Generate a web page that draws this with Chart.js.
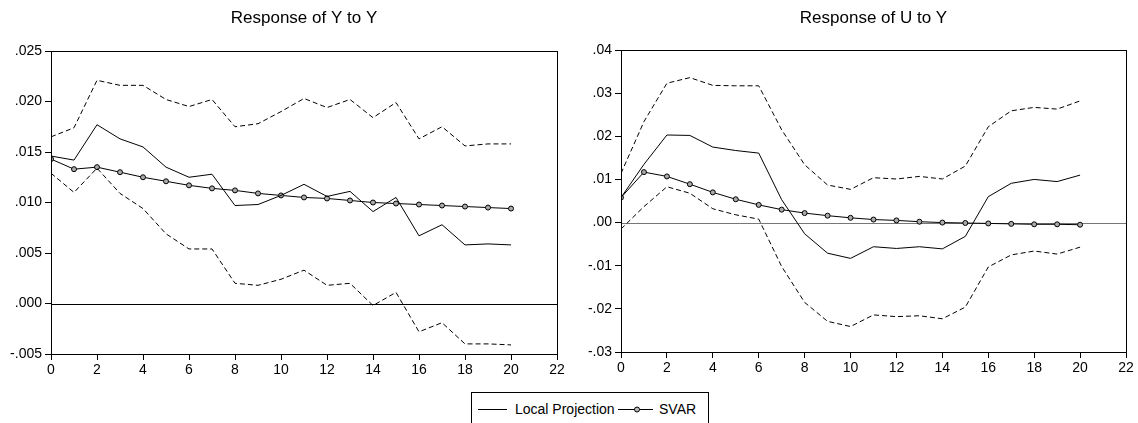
<!DOCTYPE html>
<html>
<head>
<meta charset="utf-8">
<script src="https://cdn.jsdelivr.net/npm/chart.js@4/dist/chart.umd.min.js"></script>
<style>
  html, body { margin: 0; padding: 0; background: #fff; width: 1138px; height: 423px; overflow: hidden; }
  .wrap { position: absolute; top: 0; height: 385px; }
  #legend { position: absolute; left: 471px; top: 392px; width: 238px; height: 40px; border: 1px solid #000; box-sizing: border-box;
            font-family: "Liberation Sans", Arial, sans-serif; font-size: 14px; line-height: 16px; color: #000; }
  #legend span { position: absolute; top: 8px; white-space: nowrap; }
  #legend svg { position: absolute; top: 9px; }
</style>
</head>
<body>
<div class="wrap" style="left:0;width:570px"><canvas id="c1" width="570" height="385"></canvas></div>
<div class="wrap" style="left:570px;width:568px"><canvas id="c2" width="568" height="385"></canvas></div>
<div id="legend">
  <svg style="left:6px" width="30" height="14"><line x1="0" y1="7.5" x2="29" y2="7.5" stroke="#000" stroke-width="1"/></svg>
  <span style="left:43px">Local Projection</span>
  <svg style="left:146px" width="36" height="14"><line x1="0" y1="7.5" x2="35" y2="7.5" stroke="#000" stroke-width="1"/><circle cx="19" cy="7.5" r="2.5" fill="#bbb" stroke="#000" stroke-width="1"/></svg>
  <span style="left:187px">SVAR</span>
</div>
<script>
// ---------- data ----------
const horizons = [0,1,2,3,4,5,6,7,8,9,10,11,12,13,14,15,16,17,18,19,20];

// Response of Y to Y
const lpYY      = [0.0146,0.0142,0.0177,0.0163,0.0155,0.0135,0.0125,0.0128,0.0097,0.0098,0.0107,0.0118,0.0106,0.0111,0.0091,0.0105,0.0067,0.0078,0.0058,0.0059,0.0058];
const lpYYUpper = [0.0165,0.0174,0.0221,0.0216,0.0216,0.0202,0.0195,0.0202,0.0175,0.0178,0.0190,0.0203,0.0194,0.0202,0.0184,0.0199,0.0163,0.0175,0.0156,0.0158,0.0158];
const lpYYLower = [0.0129,0.0110,0.0134,0.0109,0.0094,0.0069,0.0054,0.0054,0.0020,0.0018,0.0024,0.0033,0.0018,0.0020,-0.0002,0.0011,-0.0028,-0.0019,-0.0040,-0.0040,-0.0041];
const svarYY    = [0.0143,0.0133,0.0135,0.0130,0.0125,0.0121,0.0117,0.0114,0.0112,0.0109,0.0107,0.0105,0.0104,0.0102,0.0100,0.0099,0.0098,0.0097,0.0096,0.0095,0.0094];

// Response of U to Y
const lpUY      = [0.0058,0.0135,0.0203,0.0202,0.0175,0.0167,0.0161,0.0053,-0.0026,-0.0071,-0.0083,-0.0056,-0.0060,-0.0056,-0.0061,-0.0032,0.0060,0.0091,0.0100,0.0095,0.0110];
const lpUYUpper = [0.0114,0.0234,0.0323,0.0336,0.0318,0.0317,0.0317,0.0215,0.0134,0.0087,0.0077,0.0104,0.0101,0.0107,0.0101,0.0131,0.0222,0.0259,0.0267,0.0263,0.0282];
const lpUYLower = [-0.0015,0.0037,0.0083,0.0068,0.0032,0.0018,0.0008,-0.0102,-0.0185,-0.0229,-0.0241,-0.0214,-0.0218,-0.0216,-0.0223,-0.0196,-0.0103,-0.0075,-0.0066,-0.0073,-0.0057];
const svarUY    = [0.0058,0.0117,0.0107,0.0089,0.0070,0.0054,0.0041,0.0030,0.0022,0.0016,0.0011,0.0007,0.0005,0.0002,0.0000,-0.0001,-0.0002,-0.0003,-0.0004,-0.0004,-0.0005];

// ticks
const xTickValues = [0,2,4,6,8,10,12,14,16,18,20,22];
const xTickLabels = ['0','2','4','6','8','10','12','14','16','18','20','22'];
const yTickValuesYY = [-0.005,0,0.005,0.010,0.015,0.020,0.025];
const yTickLabelsYY = ['-.005','.000','.005','.010','.015','.020','.025'];
const yTickValuesUY = [-0.03,-0.02,-0.01,0,0.01,0.02,0.03,0.04];
const yTickLabelsUY = ['-.03','-.02','-.01','.00','.01','.02','.03','.04'];

const titles = ['Response of Y to Y', 'Response of U to Y'];

// ---------- helpers ----------
const FONT = '"Liberation Sans", Arial, sans-serif';
function pts(arr){ return arr.map((v,i)=>({x:horizons[i], y:v})); }

const framePlugin = {
  id: 'frame',
  beforeDatasetsDraw(chart, args, opts) {
    const {ctx, chartArea:a, scales:{y}} = chart;
    const y0 = Math.round(y.getPixelForValue(0)) + 0.5;
    ctx.save();
    ctx.strokeStyle = opts.zeroColor; ctx.lineWidth = 1;
    ctx.beginPath(); ctx.moveTo(a.left, y0); ctx.lineTo(a.right, y0); ctx.stroke();
    ctx.restore();
  },
  afterDraw(chart, args, opts) {
    const {ctx, chartArea:a} = chart;
    ctx.save();
    ctx.strokeStyle = '#000'; ctx.lineWidth = 1;
    ctx.strokeRect(Math.round(a.left)+0.5, Math.round(a.top)+0.5, Math.round(a.right-a.left), Math.round(a.bottom-a.top));
    ctx.fillStyle = '#000';
    ctx.font = '17px ' + FONT;
    ctx.textAlign = 'center'; ctx.textBaseline = 'alphabetic';
    ctx.fillText(opts.title, (a.left + a.right)/2, 23);
    ctx.restore();
  }
};

function makeChart(id, lp, up, lo, sv, yVals, yLabs, ymin, ymax, pad, title, zeroColor) {
  const dashed = (d)=>({data: pts(d), borderColor:'#000', borderWidth:1, borderDash:[5,3], pointRadius:0, fill:false, tension:0});
  new Chart(document.getElementById(id), {
    type: 'line',
    data: {
      datasets: [
        dashed(up),
        dashed(lo),
        {data: pts(lp), borderColor:'#000', borderWidth:1, pointRadius:0, fill:false, tension:0},
        {data: pts(sv), borderColor:'#000', borderWidth:1, pointRadius:2.5, pointBorderWidth:1,
         pointBackgroundColor:'#aaa', pointBorderColor:'#000', fill:false, tension:0}
      ]
    },
    options: {
      responsive: false, animation: false, devicePixelRatio: 1,
      layout: { padding: pad },
      plugins: { legend:{display:false}, tooltip:{enabled:false}, title:{display:false},
                 frame: { title: title, zeroColor: zeroColor } },
      scales: {
        x: {
          type: 'linear', min: 0, max: 22,
          afterBuildTicks: s => { s.ticks = xTickValues.map(v=>({value:v})); },
          afterFit: s => { s.height = 26; },
          ticks: { callback: (v,i)=>xTickLabels[i], font:{family:FONT,size:14}, color:'#000', padding:2, maxRotation:0, autoSkip:false },
          grid: { drawOnChartArea:false, tickLength:6, tickColor:'#000', color:'#000' },
          border: { color:'#000', width:1 }
        },
        y: {
          type: 'linear', min: ymin, max: ymax,
          afterBuildTicks: s => { s.ticks = yVals.map(v=>({value:v})); },
          afterFit: s => { s.width = 51; },
          ticks: { callback: (v,i)=>yLabs[i], font:{family:FONT,size:14}, color:'#000', padding:3, autoSkip:false },
          grid: { drawOnChartArea:false, tickLength:6, tickColor:'#000', color:'#000' },
          border: { color:'#000', width:1 }
        }
      }
    },
    plugins: [framePlugin]
  });
}

makeChart('c1', lpYY, lpYYUpper, lpYYLower, svarYY, yTickValuesYY, yTickLabelsYY, -0.005, 0.025,
          {left:0, right:13, top:51, bottom:5}, titles[0], '#000');
makeChart('c2', lpUY, lpUYUpper, lpUYLower, svarUY, yTickValuesUY, yTickLabelsUY, -0.03, 0.04,
          {left:0, right:12, top:50, bottom:7}, titles[1], '#777');
</script>
</body>
</html>
